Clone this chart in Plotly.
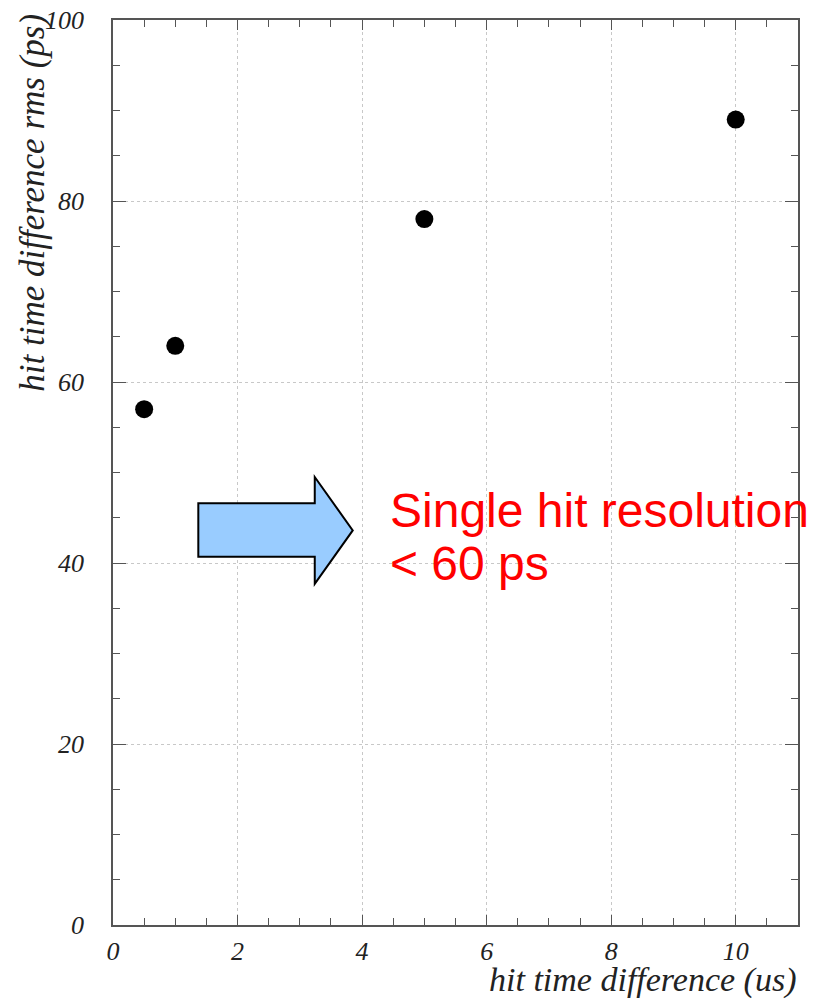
import plotly.graph_objects as go

# Data
hit_time_diff_us = [0.5, 1, 5, 10]
rms_ps = [57, 64, 78, 89]

x_tick_vals = [0, 2, 4, 6, 8, 10]
y_tick_vals = [0, 20, 40, 60, 80, 100]

# arrow outline in data coordinates
arrow_x = [1.37, 3.24, 3.24, 3.85, 3.24, 3.24, 1.37, 1.37]
arrow_y = [46.6, 46.6, 49.5, 43.6, 37.7, 40.7, 40.7, 46.6]

serif = dict(family="Liberation Serif, Times New Roman, serif", size=26, color="#222222", style="italic")

fig = go.Figure()
fig.add_trace(go.Scatter(
    x=hit_time_diff_us, y=rms_ps, mode="markers",
    marker=dict(size=18, color="black", symbol="circle"),
    showlegend=False, cliponaxis=False,
))

path = "M " + " L ".join(f"{x},{y}" for x, y in zip(arrow_x, arrow_y)) + " Z"
fig.add_shape(type="path", path=path, xref="x", yref="y",
              fillcolor="#99CCFF", line=dict(color="black", width=2), layer="above")

red = dict(family="Liberation Sans, Arial, sans-serif", size=48, color="#ff0000")
fig.add_annotation(x=4.42, y=45.8, xref="x", yref="y", xanchor="left", yanchor="middle",
                   text="Single hit resolution", showarrow=False, font=red)
fig.add_annotation(x=4.42, y=39.9, xref="x", yref="y", xanchor="left", yanchor="middle",
                   text="&lt; 60 ps", showarrow=False, font=red)

fig.add_annotation(x=1.0, y=-0.0608, xref="paper", yref="paper", xanchor="right", yanchor="middle",
                   text="hit time difference (us)", showarrow=False,
                   font=dict(serif, size=34))
fig.add_annotation(x=-0.117, y=1.009, xref="paper", yref="paper", xanchor="center", yanchor="top",
                   text="hit time difference rms (ps)", textangle=-90, showarrow=False,
                   font=dict(serif, size=35))

axis_common = dict(
    showline=True, linecolor="#555555", linewidth=1.5, mirror="ticks",
    ticks="inside", tickcolor="#555555", tickwidth=1,
    showgrid=True, gridcolor="#c8c8c8", griddash="dot", gridwidth=1,
    zeroline=False, tickfont=serif,
)

fig.update_xaxes(range=[0, 11], tickvals=x_tick_vals, ticklen=10,
                 minor=dict(ticks="inside", dtick=0.5, ticklen=7, tickcolor="#555555", showgrid=False),
                 ticklabelstandoff=2, **axis_common)
fig.update_yaxes(range=[0, 100], tickvals=y_tick_vals, ticklen=13,
                 minor=dict(ticks="inside", dtick=5, ticklen=7, tickcolor="#555555", showgrid=False),
                 ticklabelstandoff=22, **axis_common)

fig.update_layout(
    width=813, height=999,
    margin=dict(l=113, r=15, t=20, b=74, autoexpand=False),
    plot_bgcolor="white", paper_bgcolor="white",
)

# remove the default 8px page margin so the figure fills the window exactly
fig.write_html("out.html", config={"displayModeBar": False},
               post_script="document.body.style.margin='0';document.body.style.overflow='hidden';")
